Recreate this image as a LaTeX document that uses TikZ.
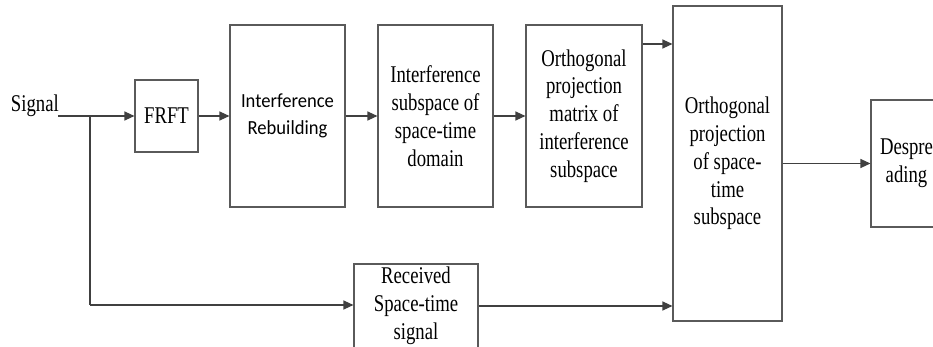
\documentclass[tikz,border=0pt]{standalone}
\usepackage{fontspec}
\setmainfont{Liberation Serif}[FakeStretch=0.78]
\newfontfamily\calfont{Carlito}[FakeStretch=0.93]
\usetikzlibrary{arrows.meta}
\definecolor{ln}{HTML}{404040}
\definecolor{bx}{HTML}{5A5A5A}
\begin{document}
\begin{tikzpicture}[x=1pt,y=-1pt,
  blk/.style={draw=bx, line width=1.1pt, rectangle, inner sep=0pt, align=center,
    font=\fontsize{24}{27.8}\selectfont, text=black},
  conn/.style={draw=ln, line width=1.2pt},
  arr/.style={conn, -{Triangle[length=10pt,width=9pt]}}]
\useasboundingbox (0,0) rectangle (933,347);
\clip (0,0) rectangle (933,347);
% text
\node[anchor=base east, inner sep=0pt, font=\fontsize{24}{28}\selectfont] (sig) at (59,112) {Signal};
\coordinate (s0) at (58,116);
\coordinate (jn) at (90,116);
\coordinate (jd) at (90,305);
% boxes
\node[blk, minimum width=63pt, minimum height=72pt] (frft) at (166.5,116) {FRFT};
\node[blk, minimum width=115pt, minimum height=182pt, font=\calfont\fontsize{20}{27.5}\selectfont] (ir) at (287.5,116) {Interference\\Rebuilding};
\node[blk, minimum width=115pt, minimum height=182pt] (is) at (435.5,116) {Interference\\subspace of\\space-time\\domain};
\node[blk, minimum width=116pt, minimum height=182pt] (mat) at (584,116) {Orthogonal\\projection\\matrix of\\interference\\subspace};
\node[blk, minimum width=109pt, minimum height=315pt] (big) at (727.5,163.5) {Orthogonal\\projection\\of space-\\time\\subspace};
\node[blk, minimum width=71pt, minimum height=127pt] (desp) at (906.5,163.5) {Despre\\ading};
\node[blk, minimum width=124pt, minimum height=84pt] (rec) at (416,306) {Received\\Space-time\\signal};
% connectors
\draw[conn] (s0) -- (jn);
\draw[arr] (jn) -- (frft.west);
\draw[arr] (frft.east) -- (ir.west);
\draw[arr] (ir.east) -- (is.west);
\draw[arr] (is.east) -- (mat.west);
\draw[arr] (mat.east |- 0,44) -- (big.west |- 0,44);
\draw[arr] (big.east) -- (desp.west);
\draw[conn] (jn) -- (jd);
\draw[arr] (jd) -- (rec.west |- jd);
\draw[arr] (rec.east |- 0,306) -- (big.west |- 0,306);
\end{tikzpicture}
\end{document}
